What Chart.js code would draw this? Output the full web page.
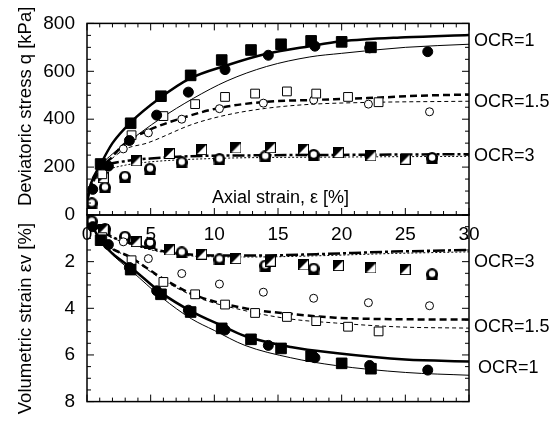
<!DOCTYPE html>
<html>
<head>
<meta charset="utf-8">
<script src="https://cdn.jsdelivr.net/npm/chart.js@4.4.0/dist/chart.umd.min.js"></script>
<style>
body{margin:0;background:#fff;}
#wrap{position:relative;width:556px;height:425px;}
canvas{position:absolute;left:0;top:0;}
</style>
</head>
<body>
<div id="wrap">
  <canvas id="lower" width="556" height="425"></canvas>
  <canvas id="upper" width="556" height="425"></canvas>
</div>
<script>
'use strict';
// tick labels
var strainTicks = [0, 5, 10, 15, 20, 25, 30];
var qTicks = [0, 200, 400, 600, 800];
var evTicks = [0, 2, 4, 6, 8];

// test points, OCR=1 (filled squares / filled circles)
var strainSqFilled = [1.07, 3.43, 5.81, 8.14, 10.58, 12.88, 15.24, 17.6, 20.0, 22.3];
var qSqFilled = [213, 383, 496, 583, 647, 689, 713, 727, 723, 700];
var evSqFilled = [1.08, 2.34, 3.40, 4.16, 4.86, 5.33, 5.72, 6.05, 6.36, 6.59];
var strainCircFilled = [0.45, 1.68, 3.33, 5.47, 7.96, 10.84, 14.24, 17.9, 22.2, 26.76];
var qCircFilled = [107, 204, 311, 417, 513, 607, 667, 705, 698, 682];
var evCircFilled = [0.5, 1.27, 2.25, 3.25, 4.08, 4.93, 5.59, 6.12, 6.45, 6.65];

// OCR=1.5 (open squares / open circles)
var strainSqOpen = [1.2, 3.5, 6.0, 8.49, 10.84, 13.2, 15.7, 18.0, 20.5, 22.9];
var qSqOpen = [170, 333, 413, 463, 493, 507, 516, 507, 493, 471];
var evSqOpen = [0.95, 1.94, 2.87, 3.40, 3.84, 4.2, 4.37, 4.55, 4.79, 4.99];
var strainCircOpen = [2.85, 4.82, 7.44, 10.4, 13.85, 17.8, 22.1, 26.9];
var qCircOpen = [276, 343, 400, 444, 467, 480, 463, 431];
var evCircOpen = [1.15, 1.87, 2.51, 2.96, 3.31, 3.57, 3.76, 3.89];

// OCR=3 (half filled squares / bold circles)
var strainSqHalf = [1.28, 3.85, 6.47, 9.0, 11.7, 14.4, 17.0, 19.74, 22.3, 24.98];
var qSqHalf = [156, 226, 257, 273, 280, 281, 275, 260, 247, 233];
var evSqHalf = [0.61, 1.14, 1.5, 1.68, 1.87, 1.98, 2.14, 2.17, 2.27, 2.34];
var strainCircBold = [0.37, 1.41, 2.98, 4.95, 7.44, 10.4, 14.0, 17.8, 27.1];
var qCircBold = [49, 115, 160, 193, 220, 233, 245, 251, 238];
var evCircBold = [0.27, 0.6, 0.93, 1.2, 1.6, 1.9, 2.17, 2.3, 2.54];

// model curves, deviatoric stress
var strainQ1a = [0, 0.3, 1, 2, 3.4, 5.7, 8.1, 11, 14.1, 17.5, 20, 25, 30];
var qQ1a = [60, 130, 205, 300, 385, 487, 570, 625, 673, 705, 725, 742, 752];
var strainQ1b = [0, 0.3, 1, 2, 3.1, 5.7, 8.35, 11, 14.1, 17.5, 20, 25, 30];
var qQ1b = [60, 125, 200, 255, 300, 400, 487, 560, 620, 660, 675, 700, 713];
var strainQ15a = [0, 0.3, 1, 1.8, 3, 4.8, 7.6, 10.4, 14.1, 17.5, 22, 26, 30];
var qQ15a = [60, 125, 190, 233, 300, 353, 407, 447, 473, 480, 488, 498, 503];
var strainQ15b = [0, 0.3, 1, 1.55, 3, 4.7, 8.35, 11, 14, 17.5, 22, 30];
var qQ15b = [60, 120, 180, 215, 275, 300, 380, 418, 445, 462, 470, 475];
var strainQ3a = [0, 0.3, 1, 1.5, 3, 5, 8, 13, 20, 30];
var qQ3a = [60, 120, 180, 205, 225, 236, 245, 249, 251, 254];
var strainQ3b = [0, 0.3, 1, 1.5, 3, 5, 10, 20, 30];
var qQ3b = [60, 115, 165, 185, 208, 222, 236, 242, 245];

// model curves, volumetric strain
var strainV1a = [0, 1, 2, 3.5, 5.9, 8.2, 10.6, 12.4, 16, 19.5, 25, 30];
var evV1a = [0, 1.05, 1.65, 2.27, 3.36, 4.13, 4.75, 5.19, 5.66, 5.92, 6.2, 6.28];
var strainV1b = [0, 1, 2, 3.5, 5.9, 8.2, 10, 12.4, 16, 19.5, 25, 30];
var evV1b = [0, 1.05, 1.7, 2.4, 3.55, 4.45, 4.95, 5.59, 6.12, 6.45, 6.75, 6.87];
var strainV15 = [0, 1, 3.6, 6, 8.5, 12.4, 16, 19.5, 24.6, 30];
var evV15a = [0, 1.0, 1.87, 2.74, 3.44, 4.0, 4.24, 4.4, 4.47, 4.48];
var evV15b = [0, 1.0, 1.9, 2.8, 3.5, 4.1, 4.46, 4.63, 4.8, 4.85];
var strainV3 = [0, 1, 2, 4, 6, 9, 13, 18, 24, 30];
var evV3a = [0, 0.62, 0.95, 1.3, 1.55, 1.72, 1.74, 1.68, 1.57, 1.5];
var evV3b = [0, 0.65, 0.98, 1.35, 1.6, 1.78, 1.8, 1.75, 1.65, 1.58];

// curve labels
var ocrNames = ['OCR=1', 'OCR=1.5', 'OCR=3'];
var ocrQ = [726, 472, 248];
var ocrEv = [6.57, 4.8, 2.03];

Chart.defaults.font.family = '"Liberation Sans", Arial, sans-serif';
Chart.defaults.color = '#000';

function toPts(xs, ys) {
  var out = [];
  for (var i = 0; i < xs.length; i++) {
    out.push({x: xs[i], y: ys[i]});
  }
  return out;
}

// half black square marker
function makeHalfSquare() {
  var c = document.createElement('canvas');
  c.width = 11; c.height = 11;
  var g = c.getContext('2d');
  g.fillStyle = '#fff';
  g.fillRect(0, 0, 11, 11);
  g.fillStyle = '#000';
  g.beginPath(); g.moveTo(0, 0); g.lineTo(11, 0); g.lineTo(0, 11); g.closePath(); g.fill();
  g.strokeStyle = '#000'; g.lineWidth = 1;
  g.strokeRect(0.5, 0.5, 10, 10);
  return c;
}

// circle on black square marker
function makeBoldCircle() {
  var c = document.createElement('canvas');
  c.width = 12; c.height = 12;
  var g = c.getContext('2d');
  g.fillStyle = '#000';
  g.beginPath(); g.arc(6, 6, 6, 0, 2 * Math.PI); g.fill();
  g.fillRect(0.5, 5, 11, 7);
  g.fillStyle = '#fff';
  g.beginPath(); g.arc(6, 5.5, 3.2, 0, 2 * Math.PI); g.fill();
  return c;
}
var halfSq = makeHalfSquare();
var boldCirc = makeBoldCircle();

function marks(label, xs, ys, style, radius, fill) {
  return {
    label: label, data: toPts(xs, ys), showLine: false,
    pointStyle: style, pointRadius: radius,
    backgroundColor: fill, borderColor: '#000', borderWidth: 1
  };
}
function curve(label, xs, ys, width, dash) {
  return {
    label: label, data: toPts(xs, ys), showLine: true, pointRadius: 0,
    borderColor: '#000', borderWidth: width, borderDash: dash,
    cubicInterpolationMode: 'monotone', fill: false
  };
}

// inward ticks, frame and texts
function framePlugin(spec) {
  return {
    id: 'frame',
    afterDraw: function(chart) {
      var ctx = chart.ctx, a = chart.chartArea;
      var xs = chart.scales.x, ys = chart.scales.y;
      ctx.save();
      ctx.strokeStyle = '#000';
      ctx.lineWidth = 1.5;
      ctx.strokeRect(a.left, a.top, a.right - a.left, a.bottom - a.top);
      ctx.lineWidth = 1;
      ctx.beginPath();
      for (var v = 0; v <= 30; v++) {
        var px = xs.getPixelForValue(v);
        var len = v % 5 === 0 ? 7 : 4;
        if (spec.xTop) { ctx.moveTo(px, a.top); ctx.lineTo(px, a.top + len); }
        ctx.moveTo(px, a.bottom); ctx.lineTo(px, a.bottom - len);
      }
      for (var w = ys.min; w <= ys.max + 1e-9; w += spec.yStep) {
        var py = ys.getPixelForValue(w);
        var l2 = Math.abs(w % spec.yMajor) < 1e-9 ? 7 : 4;
        ctx.moveTo(a.left, py); ctx.lineTo(a.left + l2, py);
        ctx.moveTo(a.right, py); ctx.lineTo(a.right - l2, py);
      }
      ctx.stroke();
      ctx.fillStyle = '#000';
      ctx.font = '18px "Liberation Sans", Arial, sans-serif';
      ctx.textAlign = 'left';
      ctx.textBaseline = 'middle';
      for (var i = 0; i < ocrNames.length; i++) {
        var yy = ys.getPixelForValue(spec.labelY[i]);
        ctx.fillText(ocrNames[i], a.right + spec.labelDx[i], yy);
      }
      if (spec.axialTitle) {
        ctx.textAlign = 'center';
        ctx.fillText('Axial strain, \u03b5 [%]', xs.getPixelForValue(15.2), ys.getPixelForValue(72));
      }
      if (spec.xLabels) {
        ctx.font = '19px "Liberation Sans", Arial, sans-serif';
        ctx.textAlign = 'center';
        for (var k = 0; k < strainTicks.length; k++) {
          ctx.fillText(String(strainTicks[k]), xs.getPixelForValue(strainTicks[k]), a.top + 20);
        }
      }
      ctx.restore();
    }
  };
}

function yScale(min, max, ticks, title, reverse, hideZero) {
  return {
    type: 'linear', min: min, max: max, reverse: reverse,
    afterBuildTicks: function(s) { s.ticks = ticks.map(function(t) { return {value: t}; }); },
    afterFit: function(s) { s.width = 87; },
    ticks: {
      padding: 12, color: '#000', font: {size: 19},
      callback: function(v) { return (hideZero && v === 0) ? '' : String(v); }
    },
    grid: {display: false, drawTicks: false},
    border: {display: false},
    title: {display: true, text: title, color: '#000', font: {size: 18.5}, padding: {top: 14.5, bottom: 0}}
  };
}

var upperCtx = document.getElementById('upper').getContext('2d');
var upperChart = new Chart(upperCtx, {
  type: 'scatter',
  data: {
    datasets: [
      marks('OCR=1 sq', strainSqFilled, qSqFilled, 'rect', 7.5, '#000'),
      marks('OCR=1 circ', strainCircFilled, qCircFilled, 'circle', 5, '#000'),
      marks('OCR=1.5 sq', strainSqOpen, qSqOpen, 'rect', 6.2, '#fff'),
      marks('OCR=1.5 circ', strainCircOpen, qCircOpen, 'circle', 4, '#fff'),
      marks('OCR=3 sq', strainSqHalf, qSqHalf, halfSq, 5, '#fff'),
      marks('OCR=3 circ', strainCircBold, qCircBold, boldCirc, 5, '#fff'),
      curve('q1a', strainQ1a, qQ1a, 2.5, []),
      curve('q1b', strainQ1b, qQ1b, 1, []),
      curve('q15a', strainQ15a, qQ15a, 2.5, [7, 4]),
      curve('q15b', strainQ15b, qQ15b, 1, [4, 3]),
      curve('q3a', strainQ3a, qQ3a, 2.5, [12, 3, 3, 3]),
      curve('q3b', strainQ3b, qQ3b, 1, [2, 2])
    ]
  },
  options: {
    responsive: false,
    animation: false,
    events: [],
    layout: {padding: {left: 0, top: 14.5, right: 87, bottom: 210}},
    plugins: {legend: {display: false}, tooltip: {enabled: false}},
    scales: {
      x: {type: 'linear', min: 0, max: 30, display: false},
      // leading spaces lift the centred title a little, as in the original
      y: yScale(0, 800, qTicks, '     Deviatoric stress q [kPa]', false, false)
    }
  },
  plugins: [framePlugin({xTop: true, yStep: 50, yMajor: 200, labelY: ocrQ, labelDx: [5, 5, 5], axialTitle: true})]
});

var lowerCtx = document.getElementById('lower').getContext('2d');
var lowerChart = new Chart(lowerCtx, {
  type: 'scatter',
  data: {
    datasets: [
      marks('OCR=1 sq', strainSqFilled, evSqFilled, 'rect', 7.5, '#000'),
      marks('OCR=1 circ', strainCircFilled, evCircFilled, 'circle', 5, '#000'),
      marks('OCR=1.5 sq', strainSqOpen, evSqOpen, 'rect', 6.2, '#fff'),
      marks('OCR=1.5 circ', strainCircOpen, evCircOpen, 'circle', 4, '#fff'),
      marks('OCR=3 sq', strainSqHalf, evSqHalf, halfSq, 5, '#fff'),
      marks('OCR=3 circ', strainCircBold, evCircBold, boldCirc, 5, '#fff'),
      curve('v1a', strainV1a, evV1a, 2.5, []),
      curve('v1b', strainV1b, evV1b, 1, []),
      curve('v15a', strainV15, evV15a, 2.5, [7, 4]),
      curve('v15b', strainV15, evV15b, 1, [4, 3]),
      curve('v3a', strainV3, evV3a, 2.5, [12, 3, 3, 3]),
      curve('v3b', strainV3, evV3b, 1, [2, 2])
    ]
  },
  options: {
    responsive: false,
    animation: false,
    events: [],
    layout: {padding: {left: 0, top: 215, right: 87, bottom: 9}},
    plugins: {legend: {display: false}, tooltip: {enabled: false}},
    scales: {
      x: {type: 'linear', min: 0, max: 30, display: false},
      y: yScale(0, 8, evTicks, 'Volumetric strain \u03b5v [%]    ', true, true)
    }
  },
  plugins: [framePlugin({xTop: false, yStep: 0.5, yMajor: 2, labelY: ocrEv, labelDx: [9, 5, 5], xLabels: true})]
});
</script>
</body>
</html>
